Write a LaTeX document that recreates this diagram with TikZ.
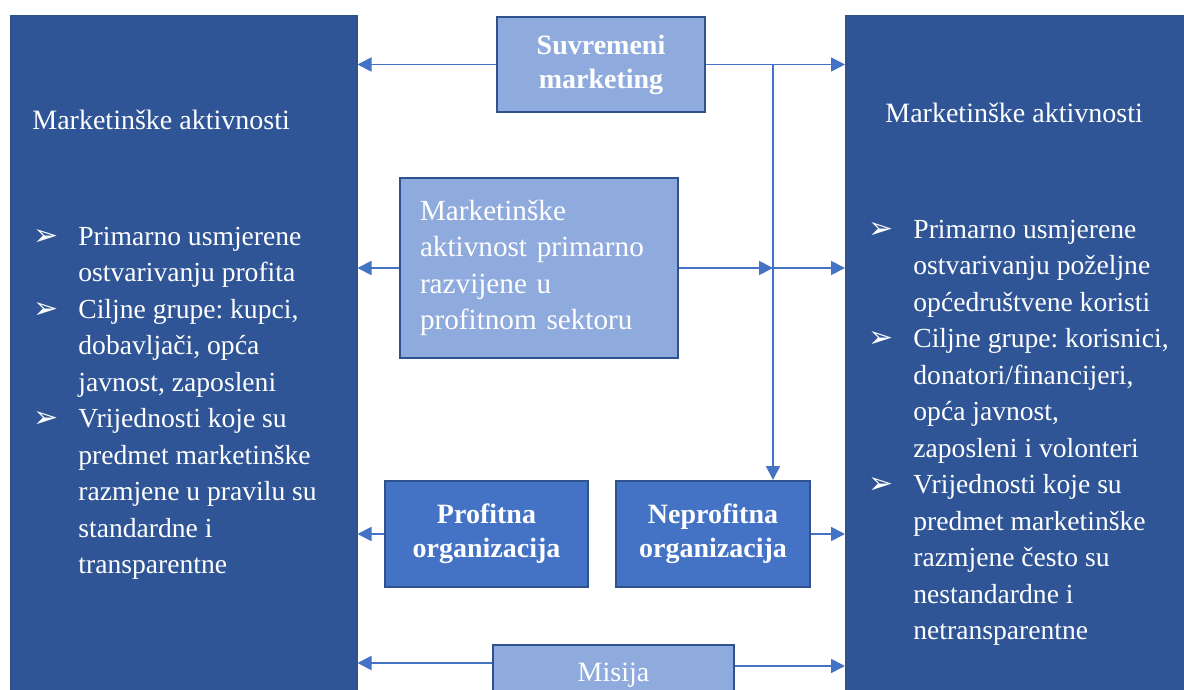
\documentclass[tikz,border=0pt]{standalone}
\usepackage{fontspec}
\setmainfont{Liberation Serif}
\newfontfamily\bulletfont{DejaVu Sans}
\usepackage{xcolor}
\definecolor{darkblue}{RGB}{47,85,151}
\definecolor{lightblue}{RGB}{143,170,220}
\definecolor{midblue}{RGB}{68,114,196}
\definecolor{edgeblue}{RGB}{47,82,143}
\usetikzlibrary{arrows.meta}
\frenchspacing
\newcommand{\bul}{\makebox[22.5pt][l]{\bulletfont\fontsize{15}{15}\selectfont ➢}}
\newcommand{\ind}{\hspace*{22.5pt}}

\begin{document}
\begin{tikzpicture}[x=0.5pt, y=-0.5pt,
	bigbox/.style = {draw=edgeblue, line width=0.75pt, fill=darkblue, anchor=north west, minimum width=173pt, minimum height=345pt, inner sep=0pt},
	lightbox/.style = {draw=edgeblue, line width=1pt, fill=lightblue, text=white},
	orgbox/.style = {draw=edgeblue, line width=1pt, fill=midblue, text=white, align=center, font=\fontsize{14}{17}\selectfont\bfseries},
	listtext/.style = {text=white, anchor=north west, inner sep=0pt, align=left, font=\fontsize{13.8}{18.25}\selectfont},
	headtext/.style = {text=white, anchor=base west, inner sep=0pt, font=\fontsize{14}{17}\selectfont},
	link/.style = {draw=midblue, line width=0.9pt, -{Triangle[length=7pt, width=7pt]}}]
	\useasboundingbox (0,0) rectangle (1184,690);
	\fill[white] (0,0) rectangle (1184,690);
	\clip (0,0) rectangle (1184,690);
	\node[bigbox] (lbox) at (10,15) {};
	\node[bigbox] (rbox) at (845,15) {};
	\node[lightbox, minimum width=104pt, minimum height=47.5pt, align=center, font=\fontsize{14}{17}\selectfont\bfseries] (suv) at (601,64.5) {Suvremeni\\marketing};
	\node[lightbox, minimum height=90pt, text width=119pt, inner xsep=10pt, align=left, font=\fontsize{14.6}{18.3}\selectfont] (mid) at (539,268) {Marketinške\\aktivnost primarno\\razvijene u\\profitnom sektoru};
	\node[orgbox, minimum width=101.5pt, minimum height=53pt] (prof) at (486.5,534) {Profitna\\organizacija};
	\node[orgbox, minimum width=97pt, minimum height=53pt] (nep) at (713,534) {Neprofitna\\organizacija};
	\node[lightbox, minimum width=120.5pt, minimum height=30pt, font=\fontsize{14}{17}\selectfont] (mis) at (613.5,675) {Misija};
	\node[headtext] (lhead) at (32,130) {Marketinške aktivnosti};
	\node[headtext] (rhead) at (885,123) {Marketinške aktivnosti};
	\node[listtext] (llist) at (33,219.5) {\strut\bul Primarno usmjerene\\ \ind ostvarivanju profita\\ \bul Ciljne grupe: kupci,\\ \ind dobavljači, opća\\ \ind javnost, zaposleni\\ \bul Vrijednosti koje su\\ \ind predmet marketinške\\ \ind razmjene u pravilu su\\ \ind standardne i\\ \ind transparentne};
	\node[listtext] (rlist) at (868,212.5) {\strut\bul Primarno usmjerene\\ \ind ostvarivanju poželjne\\ \ind općedruštvene koristi\\ \bul Ciljne grupe: korisnici,\\ \ind donatori/financijeri,\\ \ind opća javnost,\\ \ind zaposleni i volonteri\\ \bul Vrijednosti koje su\\ \ind predmet marketinške\\ \ind razmjene često su\\ \ind nestandardne i\\ \ind netransparentne};
	\path (suv.east) ++(67,0) coordinate (split);
	\draw[link] (suv.west) -- (suv.west -| lbox.east);
	\draw[link] (suv.east) -- (suv.east -| rbox.west);
	\draw[link] (split) -- (split |- nep.north);
	\draw[link] (mid.west) -- (mid.west -| lbox.east);
	\draw[link] (mid.east) -- (mid.east -| split);
	\draw[link] (mid.east -| split) -- (mid.east -| rbox.west);
	\draw[link] (prof.west) -- (prof.west -| lbox.east);
	\draw[link] (nep.east) -- (nep.east -| rbox.west);
	\draw[link] ([yshift=6pt]mis.west) -- ([yshift=6pt]mis.west -| lbox.east);
	\draw[link] ([yshift=4.5pt]mis.east) -- ([yshift=4.5pt]mis.east -| rbox.west);
\end{tikzpicture}
\end{document}
